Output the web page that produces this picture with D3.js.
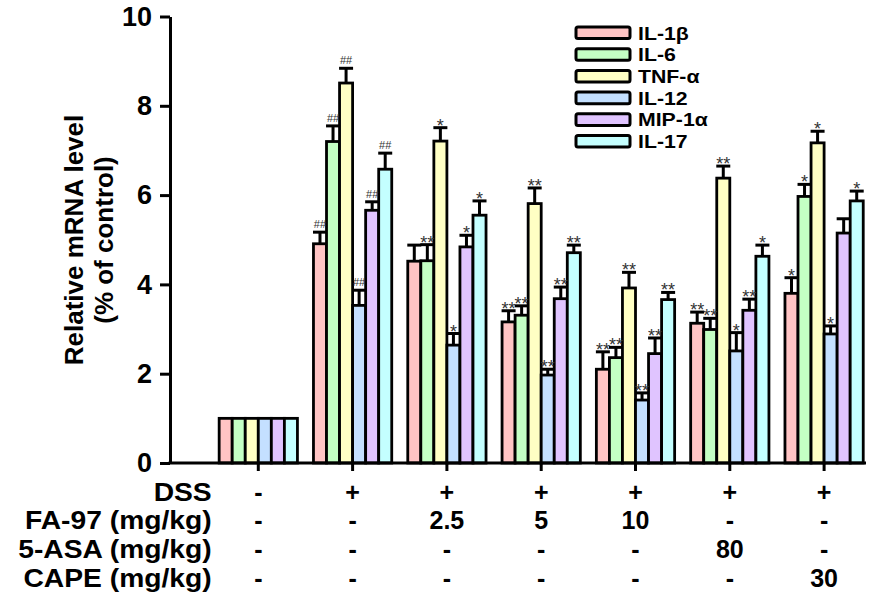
<!DOCTYPE html>
<html>
<head>
<meta charset="utf-8">
<script src="https://cdn.jsdelivr.net/npm/d3@7"></script>
<style>
	body { margin: 0; background: #fff; }
	text { font-family: "Liberation Sans", Arial, sans-serif; }
</style>
</head>
<body>
<div id="chart"></div>
<script>
// groups along the x axis (one per treatment column)
var groups = ["normal", "dss", "fa2.5", "fa5", "fa10", "asa80", "cape30"];
var cytokines = ["IL-1β", "IL-6", "TNF-α", "IL-12", "MIP-1α", "IL-17"];
var colors = ["#ffc4c4", "#c4ffc4", "#ffffc4", "#c4e0ff", "#e0c4ff", "#c4ffff"];

// mean values, one array per cytokine
var il1b = [1.0, 4.91, 4.52, 3.16, 2.10, 3.13, 3.80];
var il6 = [1.0, 7.20, 4.53, 3.31, 2.36, 2.99, 5.97];
var tnf = [1.0, 8.51, 7.21, 5.81, 3.92, 6.38, 7.17];
var il12 = [1.0, 3.53, 2.64, 1.97, 1.41, 2.51, 2.89];
var mip = [1.0, 5.66, 4.84, 3.68, 2.45, 3.42, 5.15];
var il17 = [1.0, 6.58, 5.55, 4.71, 3.66, 4.63, 5.87];

// error bar sizes
var il1bErr = [0, 0.26, 0.36, 0.25, 0.39, 0.25, 0.35];
var il6Err = [0, 0.35, 0.36, 0.21, 0.23, 0.25, 0.27];
var tnfErr = [0, 0.33, 0.30, 0.35, 0.35, 0.27, 0.26];
var il12Err = [0, 0.34, 0.26, 0.13, 0.16, 0.41, 0.18];
var mipErr = [0, 0.19, 0.26, 0.26, 0.35, 0.25, 0.32];
var il17Err = [0, 0.36, 0.32, 0.17, 0.16, 0.25, 0.22];

// significance marks
var il1bSig = ["", "##", "", "**", "**", "**", "*"];
var il6Sig = ["", "##", "**", "**", "**", "**", "*"];
var tnfSig = ["", "##", "*", "**", "**", "**", "*"];
var il12Sig = ["", "##", "*", "**", "**", "*", "*"];
var mipSig = ["", "##", "*", "**", "**", "**", ""];
var il17Sig = ["", "##", "*", "**", "**", "*", "*"];

// treatment table under the axis
var rowLabels = ["DSS", "FA-97 (mg/kg)", "5-ASA (mg/kg)", "CAPE (mg/kg)"];
var dssRow = ["-", "+", "+", "+", "+", "+", "+"];
var fa97Row = ["-", "-", "2.5", "5", "10", "-", "-"];
var asaRow = ["-", "-", "-", "-", "-", "80", "-"];
var capeRow = ["-", "-", "-", "-", "-", "-", "30"];
var yTicks = [0, 2, 4, 6, 8, 10];

var values = [il1b, il6, tnf, il12, mip, il17];
var errors = [il1bErr, il6Err, tnfErr, il12Err, mipErr, il17Err];
var sigs = [il1bSig, il6Sig, tnfSig, il12Sig, mipSig, il17Sig];
var rows = [dssRow, fa97Row, asaRow, capeRow];

var W = 896, H = 597;
var svg = d3.select("#chart").append("svg").attr("width", W).attr("height", H);

var axisX = 170, baseY = 463;
var y = d3.scaleLinear().domain([0, 10]).range([baseY, 16.5]);
var x = d3.scaleBand().domain(groups).range([211.15, 871.25]).paddingInner(0.17).paddingOuter(0.085);
var xInner = d3.scaleBand().domain(cytokines).range([0, x.bandwidth()]);

// build flat list of bars
var bars = [];
groups.forEach((g, gi) => {
	cytokines.forEach((c, ci) => {
		bars.push({
			group: g, key: c, ci: ci,
			v: values[ci][gi], e: errors[ci][gi], sig: sigs[ci][gi]
		});
	});
});
var cx = d => x(d.group) + xInner(d.key) + xInner.bandwidth() / 2;

// bars
svg.append("g").selectAll("rect").data(bars).join("rect")
	.attr("x", d => x(d.group) + xInner(d.key))
	.attr("y", d => y(d.v))
	.attr("width", xInner.bandwidth())
	.attr("height", d => baseY - y(d.v))
	.attr("fill", d => colors[d.ci])
	.attr("stroke", "#000")
	.attr("stroke-width", 2.8);

// error bars
var eb = svg.append("g").attr("stroke", "#000").attr("stroke-width", 3);
var withErr = bars.filter(d => d.e > 0);
eb.selectAll("line.v").data(withErr).join("line").attr("class", "v")
	.attr("x1", cx).attr("x2", cx)
	.attr("y1", d => y(d.v)).attr("y2", d => y(d.v + d.e));
eb.selectAll("line.cap").data(withErr).join("line").attr("class", "cap")
	.attr("x1", d => cx(d) - 7).attr("x2", d => cx(d) + 7)
	.attr("y1", d => y(d.v + d.e)).attr("y2", d => y(d.v + d.e));

// significance marks
svg.append("g").selectAll("text").data(bars.filter(d => d.sig)).join("text")
	.attr("x", cx)
	.attr("y", d => y(d.v + d.e) + (d.sig == "##" ? -4 : 4))
	.attr("text-anchor", "middle")
	.attr("fill", "#333")
	.attr("font-size", d => d.sig == "##" ? 11 : 18)
	.text(d => d.sig);

// y axis
var yAxis = svg.append("g")
	.attr("transform", `translate(${axisX},0)`)
	.call(d3.axisLeft(y).tickValues(yTicks).tickSize(10).tickSizeOuter(0).tickPadding(8));
yAxis.select(".domain").attr("stroke-width", 3);
yAxis.selectAll(".tick line").attr("stroke-width", 3);
yAxis.selectAll(".tick text").attr("font-size", 27).attr("font-weight", "bold")
	.attr("font-family", "Liberation Sans, Arial, sans-serif").attr("fill", "#000");

// x axis: baseline plus ticks at group centres
svg.append("line")
	.attr("x1", axisX - 1.5).attr("x2", 866)
	.attr("y1", baseY).attr("y2", baseY)
	.attr("stroke", "#000").attr("stroke-width", 3);
var xAxis = svg.append("g")
	.attr("transform", `translate(0,${baseY})`)
	.call(d3.axisBottom(x).tickSize(8).tickSizeOuter(0).tickFormat(""));
xAxis.select(".domain").remove();
xAxis.selectAll(".tick line").attr("stroke-width", 3);

// y axis title
var title = svg.append("g").attr("font-weight", "bold").attr("font-size", 26).attr("text-anchor", "middle");
title.append("text").attr("transform", "translate(83,240) rotate(-90)").text("Relative mRNA level");
title.append("text").attr("transform", "translate(112.5,240) rotate(-90)").text("(% of control)");

// legend
var legend = svg.append("g");
cytokines.forEach((c, i) => {
	var ly = 32.8 + i * 21.7;
	legend.append("rect")
		.attr("x", 576).attr("y", ly - 5.8).attr("width", 54).attr("height", 11.6)
		.attr("rx", 2)
		.attr("fill", colors[i]).attr("stroke", "#000").attr("stroke-width", 3);
	legend.append("text")
		.attr("transform", `translate(638,${ly + 6.8}) scale(1.12,1)`)
		.attr("font-size", 19).attr("font-weight", "bold")
		.text(c);
});

// treatment table
var rowY = [501, 529, 558, 587];
var table = svg.append("g").attr("font-weight", "bold").attr("font-size", 25);
rowLabels.forEach((lab, ri) => {
	table.append("text")
		.attr("transform", `translate(211.7,${rowY[ri]}) scale(1.13,1)`)
		.attr("text-anchor", "end")
		.text(lab);
	table.selectAll("text.r" + ri).data(rows[ri]).join("text").attr("class", "r" + ri)
		.attr("x", (d, i) => x(groups[i]) + x.bandwidth() / 2)
		.attr("y", rowY[ri])
		.attr("text-anchor", "middle")
		.text(d => d);
});
</script>
</body>
</html>
